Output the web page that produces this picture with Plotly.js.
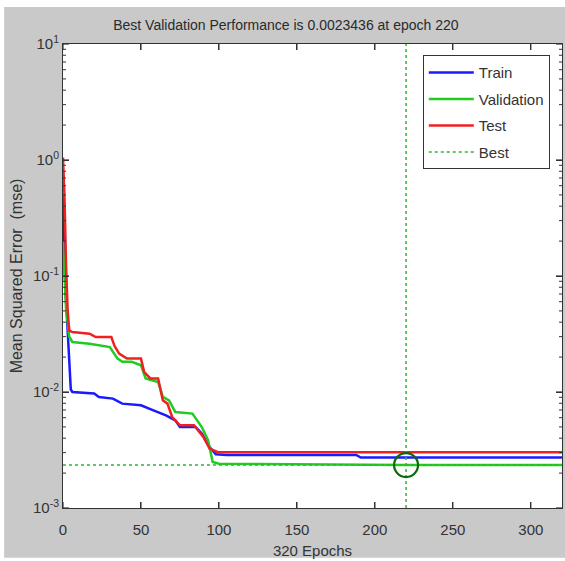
<!DOCTYPE html>
<html>
<head>
<meta charset="utf-8">
<script src="https://cdn.plot.ly/plotly-3.0.1.min.js"></script>
<style>html,body{margin:0;padding:0;background:#fff;}#chart{width:565px;height:561px;}</style>
</head>
<body>
<div id="chart"></div>
<script>
// ---- data ----
const trainEpochs = [0,1,2,3,4,5,6,20,23,32,38,50,58,66,72,75,85,89,94,98,105,188,191,320];
const trainMse    = [0.5,0.12,0.06,0.033,0.02,0.0105,0.0100,0.0097,0.00906,0.00877,0.00794,0.00768,0.00695,0.00630,0.00570,0.00499,0.00499,0.00438,0.00336,0.00290,0.00287,0.00287,0.00272,0.00272];

const valEpochs = [0,1,2,3,4,6,17,30,35,38,44,50,53,61,64,68,72,83,89,93,96,100,140,180,220,320];
const valMse    = [0.2,0.09,0.05,0.0401,0.030,0.0270,0.0261,0.0244,0.0194,0.0182,0.0182,0.0170,0.0131,0.0122,0.00906,0.00848,0.00673,0.00651,0.00499,0.00384,0.00249,0.00241,0.00238,0.00236,0.0023436,0.0023436];

const testEpochs = [0,1,2,3,4,6,17,21,31,33,36,41,50,52,56,61,64,67,70,75,84,90,94,99,105,320];
const testMse    = [1.05,0.45,0.12,0.05,0.034,0.0329,0.0318,0.0298,0.0298,0.025,0.0214,0.0194,0.0194,0.0149,0.0131,0.0131,0.00848,0.00794,0.00609,0.00516,0.00516,0.00410,0.00325,0.00304,0.00302,0.00302];

const bestEpoch = 220;
const bestPerf = 0.0023436;
const maxEpoch = 320;
const yMin = 1e-3, yMax = 1e1;

const xTickVals = [0,50,100,150,200,250,300];
const yTickVals = [1e-3,1e-2,1e-1,1e0,1e1];
const yTickText = ['10<sup>-3</sup>','10<sup>-2</sup>','10<sup>-1</sup>','10<sup>0</sup>','10<sup>1</sup>'];
const legendNames = ['Train','Validation','Test','Best'];

// minor tick positions of the log axis (2..9 in each decade)
const yMinorVals = [];
for (let e = -3; e < 1; e++) for (let d = 2; d <= 9; d++) yMinorVals.push(d * Math.pow(10, e));

const FONT = 'Liberation Sans, Arial, sans-serif';

const traces = [
  {x: trainEpochs, y: trainMse, type:'scatter', mode:'lines', name: legendNames[0], legendgroup:'g1',
   line:{color:'#1a1aff', width:2.5}},
  {x: valEpochs, y: valMse, type:'scatter', mode:'lines', name: legendNames[1], legendgroup:'g2',
   line:{color:'#1fcc1f', width:2.5}},
  {x: testEpochs, y: testMse, type:'scatter', mode:'lines', name: legendNames[2], legendgroup:'g3',
   line:{color:'#f02020', width:2.5}},
  {x: [0, maxEpoch, null, bestEpoch, bestEpoch], y: [bestPerf, bestPerf, null, yMin, yMax],
   type:'scatter', mode:'lines', name: legendNames[3], legendgroup:'g4',
   line:{color:'#2db82d', width:1.5, dash:'dot'}},
  {x: [bestEpoch], y: [bestPerf], type:'scatter', mode:'markers', showlegend:false,
   marker:{symbol:'circle-open', size:24, color:'#0a6a0a', line:{width:2.2, color:'#0a6a0a'}}}
];

const axisLine = {showline:true, linecolor:'#333', linewidth:1, showgrid:false, zeroline:false};

// tick marks drawn inside the box on all four sides, placed on the axes' own data scales
const tickColor = '#333';
const tickShapes = [];
const xLen = 6 / 464, yLen = 6 / 499, yMinorLen = 3 / 499;
xTickVals.forEach(v => {
  tickShapes.push({type:'line', xref:'x', yref:'paper', x0:v, x1:v, y0:0, y1:xLen, line:{color:tickColor, width:1.2}, layer:'above'});
  tickShapes.push({type:'line', xref:'x', yref:'paper', x0:v, x1:v, y0:1 - xLen, y1:1, line:{color:tickColor, width:1.2}, layer:'above'});
});
yTickVals.forEach(v => {
  tickShapes.push({type:'line', xref:'paper', yref:'y', x0:0, x1:yLen, y0:v, y1:v, line:{color:tickColor, width:1.2}, layer:'above'});
  tickShapes.push({type:'line', xref:'paper', yref:'y', x0:1 - yLen, x1:1, y0:v, y1:v, line:{color:tickColor, width:1.2}, layer:'above'});
});
yMinorVals.forEach(v => {
  tickShapes.push({type:'line', xref:'paper', yref:'y', x0:0, x1:yMinorLen, y0:v, y1:v, line:{color:tickColor, width:1}, layer:'above'});
  tickShapes.push({type:'line', xref:'paper', yref:'y', x0:1 - yMinorLen, x1:1, y0:v, y1:v, line:{color:tickColor, width:1}, layer:'above'});
});

const layout = {
  width:565, height:561,
  margin:{l:63, r:3, t:44, b:53},
  paper_bgcolor:'#c9c9c9', plot_bgcolor:'#ffffff',
  font:{family:FONT, size:14, color:'#333'},
  showlegend:true,
  title:{text:'Best Validation Performance is 0.0023436 at epoch 220',
         font:{family:FONT, size:14, color:'#2a2a2a'},
         x:0.506, xref:'container', xanchor:'center', y:0.955, yref:'container', yanchor:'middle'},
  xaxis:Object.assign({range:[0, maxEpoch], tickmode:'array', tickvals:xTickVals, ticks:'inside', ticklen:6, tickwidth:1, tickcolor:tickColor,
         mirror:'ticks', ticklabelstandoff:8,
         tickfont:{family:FONT, size:15, color:'#333'},
         title:{text:'320 Epochs', font:{family:FONT, size:15, color:'#333'}, standoff:8}}, axisLine),
  yaxis:Object.assign({type:'log', range:[Math.log10(yMin), Math.log10(yMax)], tickmode:'array', tickvals:yTickVals, ticktext:yTickText,
         ticks:'inside', ticklen:6, tickwidth:1, tickcolor:tickColor, mirror:'ticks',
         tickfont:{family:FONT, size:15, color:'#333'},
         title:{text:'Mean Squared Error  (mse)', font:{family:FONT, size:16, color:'#333'}, standoff:6}}, axisLine),
  legend:{x:0.721, y:0.976, xanchor:'left', yanchor:'top', bgcolor:'#ffffff',
          bordercolor:'#333', borderwidth:1, itemwidth:45, font:{family:FONT, size:15, color:'#333'},
          tracegroupgap:4},
  shapes:[
    // thin white frame round the grey figure, as in the reference screenshot
    {type:'rect', xref:'paper', yref:'paper', x0:-0.2, x1:-0.118, y0:-0.2, y1:1.2,
     fillcolor:'#ffffff', line:{width:0}, layer:'below'},
    {type:'rect', xref:'paper', yref:'paper', x0:-0.2, x1:1.2, y0:1.08, y1:1.2,
     fillcolor:'#ffffff', line:{width:0}, layer:'below'},
    {type:'rect', xref:'paper', yref:'paper', x0:-0.2, x1:1.2, y0:-0.2, y1:-0.107,
     fillcolor:'#ffffff', line:{width:0}, layer:'below'}
  ].concat(tickShapes)
};

Plotly.newPlot('chart', traces, layout, {displayModeBar:false, staticPlot:true});
</script>
</body>
</html>
